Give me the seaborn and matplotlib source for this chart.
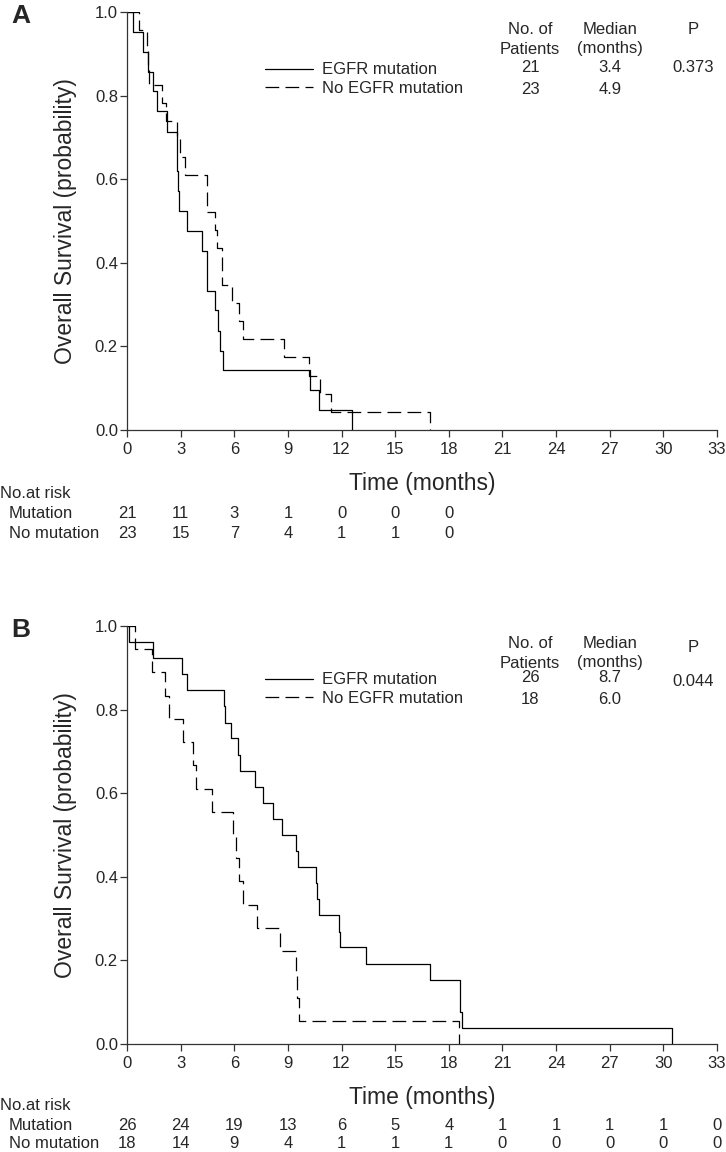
import matplotlib
matplotlib.use("Agg")
import matplotlib.pyplot as plt
import matplotlib.transforms as mtransforms
import seaborn as sns

# Panel A curves (time in months, survival probability)
a_mut_time = [0, 0.35, 0.91, 1.19, 1.47, 1.70, 2.22, 2.78, 2.87, 2.93, 3.37, 4.17,
              4.45, 4.91, 5.10, 5.20, 5.39, 10.23, 10.75, 12.56]
a_mut_surv = [1.0, 0.952, 0.905, 0.857, 0.810, 0.762, 0.714, 0.619, 0.571, 0.524, 0.476,
              0.429, 0.333, 0.286, 0.238, 0.190, 0.143, 0.095, 0.048, 0.0]
a_nomut_time = [0, 0.69, 1.10, 1.19, 1.25, 1.96, 2.20, 2.78, 2.96, 3.24, 4.46, 4.50,
                4.92, 5.05, 5.29, 5.32, 5.85, 6.28, 6.50, 8.80, 10.20, 10.80, 11.40, 16.95]
a_nomut_surv = [1.0, 0.957, 0.913, 0.870, 0.826, 0.783, 0.739, 0.696, 0.652, 0.609, 0.565,
                0.522, 0.478, 0.435, 0.391, 0.348, 0.304, 0.261, 0.217, 0.174, 0.130,
                0.087, 0.043, 0.0]

# Panel B curves
b_mut_time = [0, 0.13, 1.43, 3.10, 3.37, 5.43, 5.50, 5.82, 6.22, 6.32, 7.16, 7.58, 8.18,
              8.69, 9.43, 9.58, 10.55, 10.60, 10.73, 11.87, 11.92, 13.35, 16.95, 18.60,
              18.72, 30.50]
b_mut_surv = [1.0, 0.962, 0.923, 0.885, 0.846, 0.808, 0.769, 0.731, 0.692, 0.654, 0.615,
              0.577, 0.538, 0.500, 0.462, 0.423, 0.385, 0.346, 0.308, 0.269, 0.231,
              0.192, 0.154, 0.077, 0.038, 0.0]
b_nomut_time = [0, 0.45, 1.38, 2.13, 2.36, 3.15, 3.71, 3.86, 4.73, 5.91, 6.10, 6.28, 6.47,
                7.25, 8.56, 9.45, 9.50, 9.64, 18.58]
b_nomut_surv = [1.0, 0.944, 0.889, 0.833, 0.778, 0.722, 0.667, 0.611, 0.556, 0.500, 0.444,
                0.389, 0.333, 0.278, 0.222, 0.167, 0.111, 0.056, 0.0]

# Legend / summary table
group_labels = ["EGFR mutation", "No EGFR mutation"]
a_patients = ["21", "23"]
a_median = ["3.4", "4.9"]
a_p = "0.373"
b_patients = ["26", "18"]
b_median = ["8.7", "6.0"]
b_p = "0.044"

# Numbers at risk
a_risk_time = [0, 3, 6, 9, 12, 15, 18]
a_risk_mut = [21, 11, 3, 1, 0, 0, 0]
a_risk_nomut = [23, 15, 7, 4, 1, 1, 0]
b_risk_time = [0, 3, 6, 9, 12, 15, 18, 21, 24, 27, 30, 33]
b_risk_mut = [26, 24, 19, 13, 6, 5, 4, 1, 1, 1, 1, 0]
b_risk_nomut = [18, 14, 9, 4, 1, 1, 1, 0, 0, 0, 0, 0]

x_ticks = list(range(0, 34, 3))
y_ticks = [0.0, 0.2, 0.4, 0.6, 0.8, 1.0]

sns.set_style("ticks")
plt.rcParams["font.family"] = ["Liberation Sans", "DejaVu Sans"]

W, H = 726, 1152
fig = plt.figure(figsize=(W / 100, H / 100), dpi=100)


def fx(px):
    return px / W


def fy(py):
    return 1 - py / H


def draw_panel(off, top, bottom, letter, curves, patients, median, pval, p_dy,
               row_y, risk_rows, risk_time, risk_mut, risk_nomut):
    ax = fig.add_axes([fx(127), fy(off + bottom), fx(717) - fx(127),
                       (bottom - top) / H])
    styles = ["-", (0, (11, 5))]
    handles = []
    for (t, s), ls, lab in zip(curves, styles, group_labels):
        sns.lineplot(x=t, y=s, ax=ax, drawstyle="steps-post", estimator=None,
                     sort=False, color="black", lw=0.9, linestyle=ls, legend=False)
        handles.append(ax.lines[-1])
        handles[-1].set_label(lab)

    ax.set_xlim(0, 33)
    ax.set_ylim(0, 1)
    ax.set_xticks(x_ticks)
    ax.set_yticks(y_ticks)
    ax.set_yticklabels([f"{v:.1f}" for v in y_ticks])
    ax.tick_params(axis="both", labelsize=12, length=5, width=0.9, color="#333333")
    ax.tick_params(axis="x", pad=4)
    ax.tick_params(axis="y", pad=1.5)
    sns.despine(ax=ax)
    for sp in ["left", "bottom"]:
        ax.spines[sp].set_linewidth(0.9)
        ax.spines[sp].set_color("#333333")

    ax.set_xlabel("Time (months)", fontsize=16.5)
    ax.xaxis.set_label_coords(0.5, -(53 - 11) / (bottom - top))
    ax.set_ylabel("Overall Survival (probability)", fontsize=16.5)
    ax.yaxis.set_label_coords(-50 / 590, 0.5)

    fig.text(fx(21), fy(off + 16), letter, fontsize=19, fontweight="bold",
             ha="center", va="center")

    ax.legend(handles=handles, loc="center left",
              bbox_to_anchor=(fx(265), fy(off + (row_y[0] + row_y[1]) / 2)),
              bbox_transform=fig.transFigure, frameon=False, fontsize=12,
              handlelength=2.85, handletextpad=0.6, labelspacing=0.2,
              borderpad=0, borderaxespad=0)

    # summary table
    for cx, head in [(530, ["No. of", "Patients"]), (610, ["Median", "(months)"])]:
        fig.text(fx(cx), fy(off + 30), head[0], fontsize=12, ha="center", va="center")
        fig.text(fx(cx), fy(off + 49), head[1], fontsize=12, ha="center", va="center")
    fig.text(fx(693), fy(off + 30 + p_dy), "P", fontsize=12, ha="center", va="center")
    for i in range(2):
        fig.text(fx(530), fy(off + row_y[i]), patients[i], fontsize=12,
                 ha="center", va="center")
        fig.text(fx(610), fy(off + row_y[i]), median[i], fontsize=12,
                 ha="center", va="center")
    fig.text(fx(693), fy(off + row_y[0] + p_dy), pval, fontsize=12,
             ha="center", va="center")

    # numbers at risk
    trans = mtransforms.blended_transform_factory(ax.transData, fig.transFigure)
    r0, r1, r2 = risk_rows
    fig.text(fx(0), fy(off + r0), "No.at risk", fontsize=12, ha="left", va="center")
    fig.text(fx(9), fy(off + r1), "Mutation", fontsize=12, ha="left", va="center")
    fig.text(fx(9), fy(off + r2), "No mutation", fontsize=12, ha="left", va="center")
    for t, m, n in zip(risk_time, risk_mut, risk_nomut):
        ax.text(t, fy(off + r1), str(m), transform=trans, fontsize=12,
                ha="center", va="center")
        ax.text(t, fy(off + r2), str(n), transform=trans, fontsize=12,
                ha="center", va="center")
    return ax


draw_panel(0, 12, 430, "A",
           [(a_mut_time, a_mut_surv), (a_nomut_time, a_nomut_surv)],
           a_patients, a_median, a_p, 0, [68, 90], [493, 513, 533],
           a_risk_time, a_risk_mut, a_risk_nomut)
draw_panel(614, 12, 430, "B",
           [(b_mut_time, b_mut_surv), (b_nomut_time, b_nomut_surv)],
           b_patients, b_median, b_p, 4, [64, 86], [492, 511, 529],
           b_risk_time, b_risk_mut, b_risk_nomut)

fig.savefig("out.png", dpi=100)
